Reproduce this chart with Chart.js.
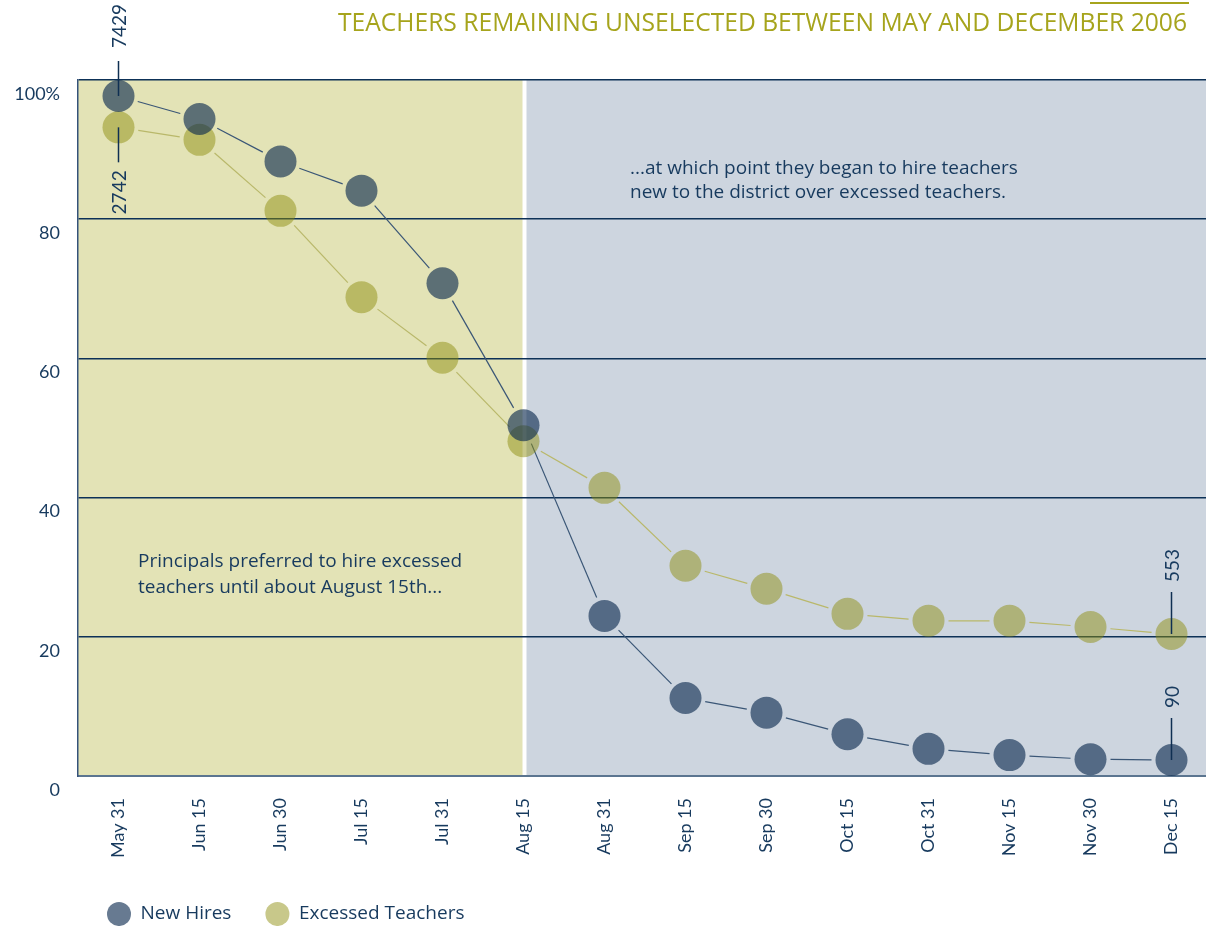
<!DOCTYPE html>
<html>
<head>
<meta charset="utf-8">
<script src="https://cdn.jsdelivr.net/npm/chart.js@4.4.1/dist/chart.umd.min.js"></script>
<style>
html,body{margin:0;padding:0;background:#fff;overflow:hidden;}
#wrap{position:relative;width:1206px;height:926px;overflow:hidden;background:#fff;}
canvas{display:block;}
</style>
</head>
<body>
<div id="wrap"><canvas id="c" width="1212" height="926"></canvas></div>
<script>
// ---- data ----
const categories = ['May 31','Jun 15','Jun 30','Jul 15','Jul 31','Aug 15','Aug 31','Sep 15','Sep 30','Oct 15','Oct 31','Nov 15','Nov 30','Dec 15'];
const newHires = [97.7, 94.4, 88.3, 84.1, 70.8, 50.4, 23.0, 11.2, 9.1, 6.0, 3.9, 3.0, 2.4, 2.3];
const excessed = [93.2, 91.4, 81.2, 68.8, 60.1, 48.1, 41.4, 30.2, 26.9, 23.3, 22.3, 22.3, 21.4, 20.4];
const yTicks = [0, 20, 40, 60, 80, 100];
const startCounts = [7429, 2742];   // New Hires, Excessed (first point)
const endCounts = [90, 553];        // New Hires, Excessed (last point)
const seriesNames = ['New Hires', 'Excessed Teachers'];
const splitCategory = 'Aug 15';
const titleText = 'TEACHERS REMAINING UNSELECTED BETWEEN MAY AND DECEMBER 2006';
const noteRight = ['...at which point they began to hire teachers', 'new to the district over excessed teachers.'];
const noteLeft = ['Principals preferred to hire excessed', 'teachers until about August 15th...'];

// ---- styles ----
const FONT = 'Lato, "Open Sans", sans-serif';
const FONT2 = '"Open Sans", Lato, sans-serif';
const NAVY = '#173a5e';
const OLIVE = '#a6a41c';
const PT_R = 16;
const NH_COLOR = 'rgba(10,40,77,0.62)';
const EX_COLOR = 'rgba(140,140,10,0.48)';
Chart.defaults.font.family = FONT;

const bgPlugin = {
  id: 'bg',
  beforeDraw(chart) {
    const {ctx, chartArea: a, scales: {x}} = chart;
    const sx = x.getPixelForValue(categories.indexOf(splitCategory));
    ctx.save();
    ctx.fillStyle = '#e3e3b6';
    ctx.fillRect(a.left, a.top, sx - 1 - a.left, a.bottom - a.top);
    ctx.fillStyle = '#cdd5df';
    ctx.fillRect(sx + 3, a.top, a.right - sx - 3, a.bottom - a.top);
    ctx.restore();
  }
};

const connectorPlugin = {
  id: 'connectors',
  beforeDatasetsDraw(chart) {
    const ctx = chart.ctx;
    chart.data.datasets.forEach((ds, di) => {
      const pts = chart.getDatasetMeta(di).data;
      ctx.save();
      ctx.strokeStyle = ds.connectorColor;
      ctx.lineWidth = 1.2;
      for (let i = 0; i < pts.length - 1; i++) {
        const p0 = pts[i], p1 = pts[i + 1];
        const dx = p1.x - p0.x, dy = p1.y - p0.y;
        const len = Math.hypot(dx, dy);
        const gap = PT_R + 4;
        if (len <= 2 * gap) continue;
        const ux = dx / len, uy = dy / len;
        ctx.beginPath();
        ctx.moveTo(p0.x + ux * gap, p0.y + uy * gap);
        ctx.lineTo(p1.x - ux * gap, p1.y - uy * gap);
        ctx.stroke();
      }
      ctx.restore();
    });
  }
};

function callout(ctx, x, y, dir, len, gap, text) {
  ctx.save();
  ctx.strokeStyle = '#0f2f52';
  ctx.lineWidth = 1.5;
  ctx.beginPath();
  ctx.moveTo(x, y);
  ctx.lineTo(x, y + dir * len);
  ctx.stroke();
  ctx.translate(x, y + dir * (len + gap));
  ctx.rotate(-Math.PI / 2);
  ctx.font = '19px ' + FONT;
  ctx.fillStyle = NAVY;
  ctx.textBaseline = 'middle';
  ctx.textAlign = dir < 0 ? 'left' : 'right';
  ctx.fillText(text, 0, 1);
  ctx.restore();
}

const calloutPlugin = {
  id: 'callouts',
  afterDatasetsDraw(chart) {
    const ctx = chart.ctx;
    const nh = chart.getDatasetMeta(0).data, ex = chart.getDatasetMeta(1).data;
    const last = categories.length - 1;
    callout(ctx, nh[0].x, nh[0].y, -1, 35, 13, String(startCounts[0]));
    callout(ctx, ex[0].x, ex[0].y, 1, 35, 8, String(startCounts[1]));
    callout(ctx, ex[last].x, ex[last].y, -1, 42, 10, String(endCounts[1]));
    callout(ctx, nh[last].x, nh[last].y, -1, 42, 10, String(endCounts[0]));
  }
};

const textPlugin = {
  id: 'texts',
  afterDraw(chart) {
    const ctx = chart.ctx;
    ctx.save();
    // title
    ctx.font = '26px ' + FONT2;
    const w = ctx.measureText(titleText).width;
    const s = Math.min(1, 849 / w);
    ctx.save();
    ctx.translate(1187, 31);
    ctx.scale(s, 1);
    ctx.fillStyle = OLIVE;
    ctx.textAlign = 'right';
    ctx.textBaseline = 'alphabetic';
    ctx.fillText(titleText, 0, 0);
    ctx.restore();
    ctx.strokeStyle = OLIVE;
    ctx.lineWidth = 2;
    ctx.beginPath();
    ctx.moveTo(1090, 3);
    ctx.lineTo(1189, 3);
    ctx.stroke();
    // notes
    ctx.font = '19px ' + FONT2;
    ctx.fillStyle = NAVY;
    ctx.textAlign = 'left';
    ctx.textBaseline = 'middle';
    noteRight.forEach((t, i) => ctx.fillText(t, 630, 169 + i * 24));
    noteLeft.forEach((t, i) => ctx.fillText(t, 138, 562 + i * 26));
    ctx.restore();
  }
};

const legendPlace = {
  id: 'legendPlace',
  afterLayout(chart) {
    const lg = chart.legend;
    if (!lg) return;
    const p = lg.options.labels.padding;
    const fs = lg.options.labels.font.size;
    const bw = lg.options.labels.pointStyleWidth;
    const dx = (119 - bw / 2 - p) - lg.left;
    lg.left += dx; lg.right += dx;
    const dy = (914 - fs / 2 - p) - lg.top;
    lg.top += dy; lg.bottom += dy;
  }
};

new Chart(document.getElementById('c'), {
  type: 'line',
  data: {
    labels: categories,
    datasets: [
      {
        label: seriesNames[0],
        data: newHires,
        showLine: false,
        connectorColor: '#3a5676',
        backgroundColor: NH_COLOR,
        borderColor: NH_COLOR,
        pointBackgroundColor: NH_COLOR,
        pointBorderWidth: 0,
        pointRadius: PT_R,
        pointHoverRadius: PT_R
      },
      {
        label: seriesNames[1],
        data: excessed,
        showLine: false,
        connectorColor: '#b9b86a',
        backgroundColor: EX_COLOR,
        borderColor: EX_COLOR,
        pointBackgroundColor: EX_COLOR,
        pointBorderWidth: 0,
        pointRadius: PT_R,
        pointHoverRadius: PT_R
      }
    ]
  },
  options: {
    responsive: false,
    animation: false,
    devicePixelRatio: 1,
    layout: {autoPadding: false, padding: {top: 80, left: 0, right: 0, bottom: 0}},
    plugins: {
      tooltip: {enabled: false},
      title: {display: false},
      legend: {
        position: 'bottom',
        align: 'start',
        labels: {
          usePointStyle: true,
          pointStyle: 'circle',
          boxHeight: 17,
          pointStyleWidth: 24,
          padding: 34,
          color: NAVY,
          font: {size: 19, family: FONT2}
        }
      }
    },
    scales: {
      x: {
        type: 'category',
        offset: true,
        grid: {display: false, drawTicks: false},
        border: {display: true, color: '#5b7590', width: 2},
        ticks: {minRotation: 90, maxRotation: 90, autoSkip: false, padding: 22, color: NAVY, font: {size: 18}},
        afterFit: s => {
          s.height = 926 - 776 - (s.chart.legend ? s.chart.legend.height : 0);
          s.paddingLeft = 0;
          s.paddingRight = 0;
        }
      },
      y: {
        min: 0,
        max: 100,
        afterBuildTicks: s => { s.ticks = yTicks.map(v => ({value: v})); },
        ticks: {
          padding: 18,
          labelOffset: 14,
          color: NAVY,
          font: {size: 18},
          callback: v => (v === 100 ? '100%' : String(v))
        },
        grid: {
          drawTicks: false,
          color: c => (c.tick && c.tick.value === 0 ? '#5b7590' : '#0d3157'),
          lineWidth: c => (c.tick && c.tick.value === 0 ? 2 : 1.5)
        },
        border: {display: true, color: '#34527a', width: 1.5},
        afterFit: s => { s.width = 78; }
      }
    }
  },
  plugins: [bgPlugin, connectorPlugin, calloutPlugin, textPlugin, legendPlace]
});
</script>
</body>
</html>
